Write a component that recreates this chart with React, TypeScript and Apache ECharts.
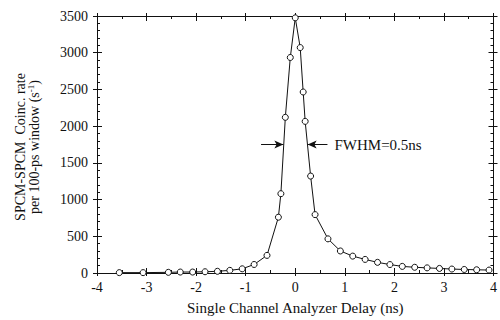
import React, { useEffect, useRef } from "react";
import * as echarts from "echarts";

const delays = [-3.55, -3.07, -2.56, -2.32, -2.07, -1.82, -1.57, -1.32, -1.07, -0.83, -0.57, -0.34, -0.29, -0.2, -0.1, 0, 0.1, 0.16, 0.2, 0.31, 0.4, 0.66, 0.91, 1.16, 1.41, 1.66, 1.91, 2.16, 2.41, 2.66, 2.91, 3.16, 3.41, 3.66, 3.91];
const rates = [5, 5, 9, 13, 13, 17, 23, 36, 57, 116, 240, 760, 1080, 2120, 2935, 3475, 3070, 2465, 2065, 1320, 795, 465, 300, 230, 185, 145, 115, 90, 78, 70, 62, 54, 48, 44, 40];
const xTicks = ["-4", "-3", "-2", "-1", "0", "1", "2", "3", "4"];
const yTicks = ["0", "500", "1000", "1500", "2000", "2500", "3000", "3500"];
const fwhmLevel = [1750];
const fwhmLeft = [-0.69, -0.24];
const fwhmRight = [0.65, 0.25];
const fwhmText = "FWHM=0.5ns";

const FONT = "Liberation Serif";

export default function App() {
  const ref = useRef<HTMLDivElement>(null);
  useEffect(() => {
    if (!ref.current) return;
    const chart = echarts.init(ref.current, null, { renderer: "svg" });
    const axisLine = { show: true, onZero: false, lineStyle: { color: "#111", width: 1 } };
    const xBase = (pos: string, inside: boolean, labels: boolean, line: boolean) => ({
      type: "value",
      position: pos,
      min: -4,
      max: 4,
      interval: 1,
      axisLine: { ...axisLine, show: line },
      axisTick: { show: true, inside, length: inside ? 5 : 3, lineStyle: { color: "#111" } },
      minorTick: { show: inside, splitNumber: 2, length: 3, lineStyle: { color: "#111" } },
      splitLine: { show: false },
      axisLabel: labels
        ? {
            show: true,
            margin: 7,
            color: "#111",
            fontFamily: FONT,
            fontSize: 14,
            formatter: (v: number) => xTicks[Math.round(v) + 4] ?? "",
          }
        : { show: false },
    });
    const yBase = (pos: string, inside: boolean, labels: boolean, line: boolean) => ({
      type: "value",
      position: pos,
      min: 0,
      max: 3500,
      interval: 500,
      axisLine: { ...axisLine, show: line },
      axisTick: { show: true, inside, length: inside ? 5 : 4, lineStyle: { color: "#111" } },
      minorTick: { show: inside, splitNumber: 5, length: 3, lineStyle: { color: "#111" } },
      splitLine: { show: false },
      axisLabel: labels
        ? {
            show: true,
            margin: 9,
            color: "#111",
            fontFamily: FONT,
            fontSize: 14,
            formatter: (v: number) => yTicks[Math.round(v / 500)] ?? "",
          }
        : { show: false },
    });
    const arrowLine = {
      symbol: ["none", "arrow"],
      symbolSize: [6, 9],
      silent: true,
      lineStyle: { color: "#111", width: 1, type: "solid" },
    };
    chart.setOption({
      animation: false,
      backgroundColor: "#fff",
      textStyle: { fontFamily: FONT, color: "#111" },
      grid: { left: 97, right: 3, top: 16, bottom: 42, containLabel: false },
      xAxis: [
        {
          ...xBase("bottom", true, true, true),
          name: "Single Channel Analyzer Delay (ns)",
          nameLocation: "middle",
          nameGap: 27,
          nameTextStyle: { fontFamily: FONT, fontSize: 15, color: "#111" },
        },
        xBase("bottom", false, false, false),
        xBase("top", true, false, true),
        xBase("top", false, false, false),
      ],
      yAxis: [
        yBase("left", true, true, true),
        yBase("left", false, false, false),
        yBase("right", true, false, true),
        yBase("right", false, false, false),
      ],
      graphic: [
        {
          type: "text",
          x: 20,
          y: 147,
          rotation: Math.PI / 2,
          style: {
            text: "SPCM-SPCM  Coinc. rate",
            fontFamily: FONT,
            fontSize: 14,
            fill: "#111",
            align: "center",
            verticalAlign: "middle",
          },
        },
        {
          type: "text",
          x: 34,
          y: 147,
          rotation: Math.PI / 2,
          style: {
            text: "per 100-ps window (s{sup|-1})",
            fontFamily: FONT,
            fontSize: 14,
            fill: "#111",
            align: "center",
            verticalAlign: "middle",
            rich: {
              sup: { fontSize: 9, verticalAlign: "top", fontFamily: FONT, fill: "#111", padding: [0, 0, 6, 0] },
            },
          },
        },
      ],
      series: [
        {
          type: "line",
          xAxisIndex: 0,
          yAxisIndex: 0,
          data: delays.map((d, i) => [d, rates[i]]),
          symbol: "circle",
          symbolSize: 6,
          showAllSymbol: true,
          lineStyle: { color: "#111", width: 1 },
          itemStyle: { color: "#fff", borderColor: "#111", borderWidth: 1 },
          z: 3,
          markLine: {
            ...arrowLine,
            label: { show: false },
            data: [
              [
                { coord: [fwhmLeft[0], fwhmLevel[0]] },
                { coord: [fwhmLeft[1], fwhmLevel[0]] },
              ],
              [
                {
                  coord: [fwhmRight[0], fwhmLevel[0]],
                },
                {
                  coord: [fwhmRight[1], fwhmLevel[0]],
                  label: {
                    show: true,
                    position: "start",
                    distance: 7,
                    formatter: fwhmText,
                    fontFamily: FONT,
                    fontSize: 15,
                    color: "#111",
                  },
                },
              ],
            ],
          },
        },
      ],
    });
    return () => chart.dispose();
  }, []);
  return (
    <div
      ref={ref}
      style={{ position: "fixed", left: 0, top: 0, width: 500, height: 320, background: "#fff" }}
    />
  );
}
